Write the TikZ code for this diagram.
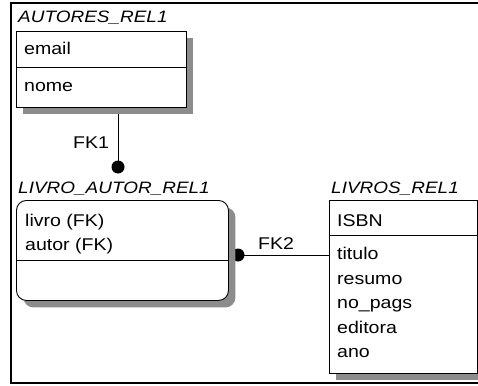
\documentclass[tikz,border=0pt]{standalone}
\usepackage{fontspec}
\setmainfont{Liberation Sans}[FakeStretch=1.15]
\usetikzlibrary{shadows}

\pgfdeclarelayer{back}
\pgfsetlayers{back,main}

\tikzset{
  entbox/.style={draw, fill=white, line width=0.9pt, anchor=north west, inner sep=0pt,
    drop shadow={shadow xshift=7pt, shadow yshift=-7pt, fill=black!45, opacity=1}},
  enttitle/.style={font=\fontsize{16.5}{19}\selectfont\itshape, anchor=base west, inner sep=0pt},
  attr/.style={anchor=base west, inner sep=0pt},
  reldot/.style={fill=black},
}

\begin{document}
\begin{tikzpicture}[x=1pt, y=-1pt, font=\fontsize{17}{20}\selectfont]
\useasboundingbox (0,0) rectangle (478,385);

% ── Frame ──
\draw[line width=2pt] (11,3) rectangle (482,383);

% ── AUTORES_REL1 ──
\node[entbox, minimum width=170pt, minimum height=76pt] (autores) at (16,31) {};
\node[enttitle] (autoresT) at (18,23) {AUTORES\_REL1};
\draw[line width=0.9pt] ([yshift=-36pt]autores.north west) -- ([yshift=-36pt]autores.north east);
\node[attr] (email) at (24,55) {email};
\node[attr] (nome) at (24,92) {nome};

% ── LIVRO_AUTOR_REL1 ──
\node[entbox, rounded corners=10pt, minimum width=212pt, minimum height=100pt] (livroautor) at (16,200) {};
\node[enttitle] (livroautorT) at (18,193) {LIVRO\_AUTOR\_REL1};
\draw[line width=0.9pt] ([yshift=-60pt]livroautor.north west) -- ([yshift=-60pt]livroautor.north east);
\node[attr] (livro) at (25,226) {livro (FK)};
\node[attr] (autor) at (25,250) {autor (FK)};

% ── LIVROS_REL1 ──
\node[entbox, minimum width=148pt, minimum height=173pt] (livros) at (329,200) {};
\node[enttitle] (livrosT) at (331,193) {LIVROS\_REL1};
\draw[line width=0.9pt] ([yshift=-35pt]livros.north west) -- ([yshift=-35pt]livros.north east);
\node[attr] (isbn) at (337,226) {ISBN};
\foreach \a/\t [count=\i] in {titulo/titulo, resumo/resumo, nopags/no\_pags, editora/editora, ano/ano} {
  \node[attr] (\a) at (337, {235 + \i*24.5}) {\t};
}

% ── Relationships ──
\coordinate (d1) at (118,167);
\coordinate (d2) at (238,255);
\begin{pgfonlayer}{back}
  \draw[line width=0.9pt] (d1 |- autores.south) -- (d1);
  \fill[reldot] (d1) circle (6.5pt);
  \draw[line width=0.9pt] (d2) -- (d2 -| livros.west);
  \fill[reldot] (d2) circle (6.5pt);
\end{pgfonlayer}
\node[attr] (fk1) at (73,148) {FK1};
\node[attr] (fk2) at (258,249) {FK2};

\end{tikzpicture}
\end{document}
